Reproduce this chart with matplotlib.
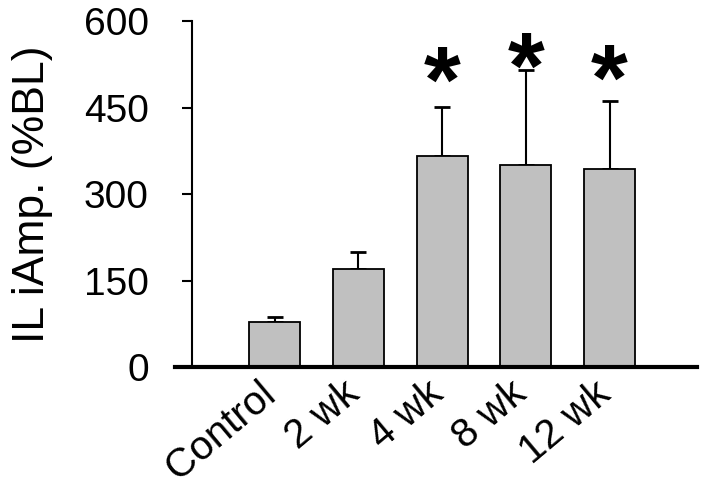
import matplotlib
matplotlib.use("Agg")
import matplotlib.pyplot as plt
import matplotlib.transforms as mtransforms
from matplotlib.lines import Line2D

plt.rcParams["font.family"] = ["Liberation Sans", "DejaVu Sans"]

groups = ["Control", "2 wk", "4 wk", "8 wk", "12 wk"]
means = [78, 170, 366, 350, 343]
err_up = [9, 29, 85, 165, 118]
star_groups = [2, 3, 4]
star_y = [520, 544, 523]

y_ticks = [0, 150, 300, 450, 600]

fig = plt.figure(figsize=(7.16, 4.94), dpi=100)
ax = fig.add_axes([0.268, 0.257, 0.705, 0.700])

x = list(range(len(groups)))
ax.bar(x, means, width=0.61, color="#c0c0c0", edgecolor="black", linewidth=1.3, zorder=2)
ax.errorbar(x, means, yerr=[[0] * len(err_up), err_up], fmt="none",
            ecolor="black", elinewidth=1.5, capsize=6, capthick=2, zorder=1)

star_fs = 68
for g, sy in zip(star_groups, star_y):
    ax.annotate("*", xy=(g, sy), xytext=(0, -0.47 * star_fs),
                textcoords="offset points", ha="center", va="baseline",
                fontsize=star_fs, fontweight="bold", color="black")

ax.set_xlim(-0.99, 5.04)
ax.set_ylim(0, 600)
ax.set_yticks(y_ticks)
ax.set_yticklabels([str(v) for v in y_ticks], fontsize=28)
ax.tick_params(axis="y", direction="out", length=7, width=1.5, pad=24)
ax.tick_params(axis="x", length=0, pad=5)
ax.set_xticks(x)
ax.set_xticklabels(groups, fontsize=29, rotation=40, ha="right", va="top",
                   rotation_mode="anchor")
shift = mtransforms.ScaledTranslation(-12 / 72, 0, fig.dpi_scale_trans)
for lbl in ax.get_xticklabels():
    lbl.set_transform(lbl.get_transform() + shift)

ax.spines["top"].set_visible(False)
ax.spines["right"].set_visible(False)
ax.spines["bottom"].set_visible(False)
ax.spines["left"].set_linewidth(1.5)

# thick baseline reaching a bit left of the y axis
ax.add_line(Line2D([-1.19, 5.04], [0, 0], color="black", linewidth=3,
                   clip_on=False, zorder=3))

ax.set_ylabel("IL iAmp. (%BL)", fontsize=32, labelpad=22)

fig.savefig("out.png", dpi=100)
